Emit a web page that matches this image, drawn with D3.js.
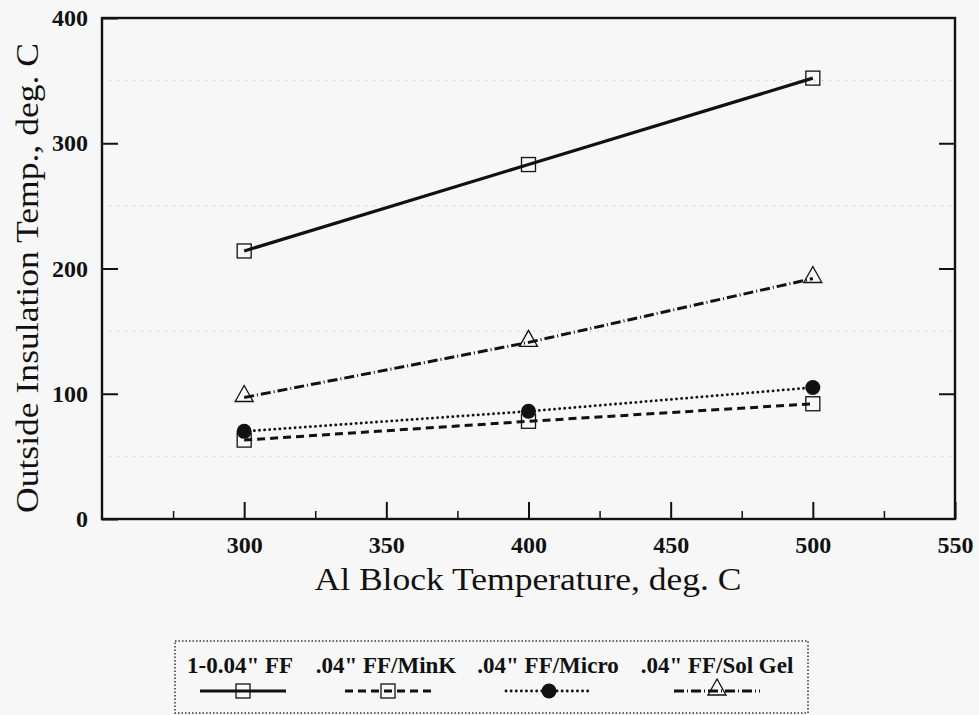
<!DOCTYPE html>
<html>
<head>
<meta charset="utf-8">
<script src="https://cdn.jsdelivr.net/npm/d3@7/dist/d3.min.js"></script>
<style>
  body { margin: 0; background: #f7f7f7; }
  svg { display: block; }
  text { font-family: "Liberation Serif", "Times New Roman", serif; fill: #111; }
</style>
</head>
<body>
<div id="chart"></div>
<script>
// Data
const blockTemps = [300, 400, 500]
const seriesNames = ['1-0.04" FF', '.04" FF/MinK', '.04" FF/Micro', '.04" FF/Sol Gel']
const ffValues = [214, 283, 352]
const minkValues = [63, 78, 92]
const microValues = [70, 86, 105]
const solGelValues = [97, 141, 192]
const xTickValues = [300, 350, 400, 450, 500, 550]
const xMinorTicks = [275, 325, 375, 425, 475, 525]
const yTickValues = [0, 100, 200, 300, 400]
const yGridValues = [50, 150, 250, 350]

const SERIES_STYLE = [
  { dash: null, width: 3.2, marker: "square" },
  { dash: "8,5", width: 3, marker: "square" },
  { dash: "0.1,5", width: 2.8, marker: "circle" },
  { dash: "10,3,1,3", width: 3, marker: "triangle" }
]

const width = 979
const height = 715
const plot = { left: 102, right: 955, top: 18, bottom: 519 }

const svg = d3.select("#chart").append("svg")
  .attr("width", width)
  .attr("height", height)

svg.append("rect").attr("width", width).attr("height", height).attr("fill", "#f7f7f7")

const x = d3.scaleLinear().domain([250, 550]).range([plot.left, plot.right])
const y = d3.scaleLinear().domain([0, 400]).range([plot.bottom, plot.top])

// faint dotted grid
svg.append("g")
  .selectAll("line")
  .data(yGridValues)
  .join("line")
  .attr("x1", plot.left).attr("x2", plot.right)
  .attr("y1", d => y(d)).attr("y2", d => y(d))
  .attr("stroke", "#aaa")
  .attr("stroke-width", 1)
  .attr("stroke-dasharray", "1,7")

// axes
const xAxis = svg.append("g")
  .attr("transform", `translate(0,${plot.bottom})`)
  .call(d3.axisBottom(x).tickValues(xTickValues).tickSizeInner(-17).tickSizeOuter(0).tickPadding(17))
xAxis.select(".domain").remove()
xAxis.selectAll("line").attr("stroke", "#111").attr("stroke-width", 2)
xAxis.selectAll("text").attr("font-size", 24).attr("font-weight", "bold").attr("font-family", "Liberation Serif, serif")

const xMinor = svg.append("g")
  .attr("transform", `translate(0,${plot.bottom})`)
  .call(d3.axisBottom(x).tickValues(xMinorTicks).tickSizeInner(-8).tickSizeOuter(0).tickFormat(""))
xMinor.select(".domain").remove()
xMinor.selectAll("line").attr("stroke", "#111").attr("stroke-width", 1.5)

const yAxis = svg.append("g")
  .attr("transform", `translate(${plot.left},0)`)
  .call(d3.axisLeft(y).tickValues(yTickValues).tickSizeInner(-16).tickSizeOuter(0).tickPadding(14))
yAxis.select(".domain").remove()
yAxis.selectAll("line").attr("stroke", "#111").attr("stroke-width", 2)
yAxis.selectAll("text").attr("font-size", 24).attr("font-weight", "bold").attr("font-family", "Liberation Serif, serif")

const yRight = svg.append("g")
  .attr("transform", `translate(${plot.right},0)`)
  .call(d3.axisRight(y).tickValues([100, 200, 300]).tickSizeInner(-16).tickSizeOuter(0).tickFormat(""))
yRight.select(".domain").remove()
yRight.selectAll("line").attr("stroke", "#111").attr("stroke-width", 2)

// frame
svg.append("rect")
  .attr("x", plot.left).attr("y", plot.top)
  .attr("width", plot.right - plot.left).attr("height", plot.bottom - plot.top)
  .attr("fill", "none")
  .attr("stroke", "#111")
  .attr("stroke-width", 2.4)

// axis titles
svg.append("text")
  .attr("x", 528).attr("y", 590)
  .attr("text-anchor", "middle")
  .attr("font-size", 32)
  .attr("textLength", 427)
  .attr("lengthAdjust", "spacingAndGlyphs")
  .text("Al Block Temperature, deg. C")

svg.append("text")
  .attr("transform", "translate(38,278) rotate(-90)")
  .attr("text-anchor", "middle")
  .attr("font-size", 32)
  .attr("textLength", 470)
  .attr("lengthAdjust", "spacingAndGlyphs")
  .text("Outside Insulation Temp., deg. C")

// series
const allValues = [ffValues, minkValues, microValues, solGelValues]
const seriesData = allValues.map((vals, i) => ({
  name: seriesNames[i],
  style: SERIES_STYLE[i],
  points: blockTemps.map((t, j) => ({ t, v: vals[j] }))
}))

const line = d3.line().x(d => x(d.t)).y(d => y(d.v))

function drawMarker(sel, kind) {
  if (kind === "square") {
    sel.append("rect")
      .attr("x", -7).attr("y", -7).attr("width", 14).attr("height", 14)
      .attr("fill", "none").attr("stroke", "#111").attr("stroke-width", 1.3)
  } else if (kind === "circle") {
    sel.append("circle").attr("r", 7.5).attr("fill", "#111")
  } else {
    sel.append("path")
      .attr("d", "M0,-12L9,4L-9,4Z")
      .attr("fill", "none").attr("stroke", "#111").attr("stroke-width", 1.3)
  }
}

const series = svg.append("g")
  .selectAll("g")
  .data(seriesData)
  .join("g")

series.append("path")
  .attr("d", d => line(d.points))
  .attr("fill", "none")
  .attr("stroke", "#111")
  .attr("stroke-width", d => d.style.width)
  .attr("stroke-linecap", d => d.style.marker === "circle" ? "round" : "butt")
  .attr("stroke-dasharray", d => d.style.dash)

series.each(function(d) {
  d3.select(this).selectAll("g.pt")
    .data(d.points)
    .join("g")
    .attr("class", "pt")
    .attr("transform", p => `translate(${x(p.t)},${y(p.v)})`)
    .each(function() { drawMarker(d3.select(this), d.style.marker) })
})

// legend
const legend = svg.append("g")
legend.append("rect")
  .attr("x", 175).attr("y", 641).attr("width", 633).attr("height", 72)
  .attr("fill", "none")
  .attr("stroke", "#333")
  .attr("stroke-width", 1.5)
  .attr("stroke-dasharray", "1.5,2")

const legendTextX = [240, 386, 548, 717]
const legendSampleX = [243, 388, 549, 717]

seriesData.forEach((d, i) => {
  legend.append("text")
    .attr("x", legendTextX[i]).attr("y", 673)
    .attr("text-anchor", "middle")
    .attr("font-size", 23)
    .attr("font-weight", "bold")
    .text(d.name)

  legend.append("line")
    .attr("x1", legendSampleX[i] - 43).attr("x2", legendSampleX[i] + 43)
    .attr("y1", 691).attr("y2", 691)
    .attr("stroke", "#111")
    .attr("stroke-width", d.style.width)
    .attr("stroke-linecap", d.style.marker === "circle" ? "round" : "butt")
    .attr("stroke-dasharray", d.style.dash)

  const m = legend.append("g").attr("transform", `translate(${legendSampleX[i]},691)`)
  drawMarker(m, d.style.marker)
})
</script>
</body>
</html>
